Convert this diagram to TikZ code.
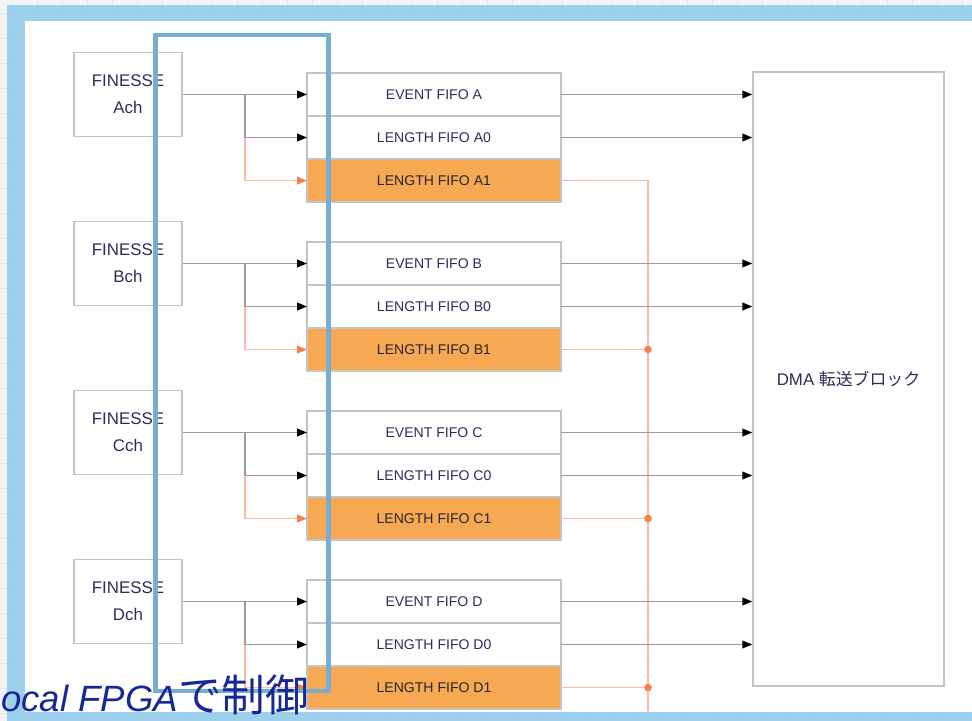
\documentclass[tikz,border=0pt]{standalone}
\usepackage{fontspec}
\setmainfont{Liberation Sans}
\newfontfamily\jpfont{Noto Sans CJK JP}
\usepackage{tikz}
\usetikzlibrary{positioning, arrows.meta}
\definecolor{gridbg}{RGB}{243,243,243}
\definecolor{gridcol}{RGB}{216,231,241}
\definecolor{bandblue}{RGB}{142,202,237}
\definecolor{frameblue}{RGB}{118,174,210}
\definecolor{boxgray}{RGB}{196,196,196}
\definecolor{wiregray}{RGB}{155,155,155}
\definecolor{fifoorange}{RGB}{247,168,82}
\definecolor{wireorange}{RGB}{250,188,168}
\definecolor{tiporange}{RGB}{244,128,78}
\definecolor{labelink}{RGB}{45,45,88}
\definecolor{titleblue}{RGB}{22,40,150}
\tikzset{
  finesse/.style={
    rectangle, draw=boxgray, line width=1.1pt, minimum width=2.7cm,
    minimum height=2.1cm, inner sep=0pt, align=center,
    font=\fontsize{12}{19}\selectfont, text=labelink
  },
  fiforow/.style={
    rectangle, draw=boxgray, line width=1.1pt, fill=white, outer sep=0pt,
    minimum width=6.35cm, minimum height=1.075cm, inner sep=0pt,
    font=\fontsize{10}{12}\selectfont, text=labelink
  },
  fifohot/.style={fiforow, fill=fifoorange, text=black!85},
  dmabox/.style={
    rectangle, draw=boxgray, line width=1.1pt, minimum width=4.775cm,
    minimum height=15.35cm, inner sep=0pt,
    font=\fontsize{12}{14}\selectfont, text=labelink
  },
  wire/.style={draw=wiregray, line width=1pt,
    -{Triangle[length=7pt, width=5.5pt, color=black]}},
  hotwire/.style={draw=wireorange, line width=0.9pt,
    -{Triangle[length=7pt, width=5.5pt, color=tiporange]}},
  busline/.style={draw=wireorange, line width=0.9pt},
  busdot/.style={circle, fill=tiporange, inner sep=0pt, minimum size=5.4pt},
  gridrule/.style={gridcol, line width=0.6pt},
  fpgaframe/.style={draw=frameblue, line width=3.5pt},
  ctrltext/.style={inner sep=0pt, text=titleblue,
    font=\fontsize{26}{32}\selectfont},
}

\begin{document}
\begin{tikzpicture}[x=0.025cm, y=-0.025cm]
  \useasboundingbox (0,0) rectangle (972,721);

  % Backdrop
  \fill[gridbg] (0,0) rectangle (972,721);
  \foreach \g in {12.5,37.5,...,972} {
    \draw[gridrule] (\g,0) -- (\g,721);
  }
  \foreach \g in {13.5,38.5,...,721} {
    \draw[gridrule] (0,\g) -- (972,\g);
  }
  \fill[bandblue, opacity=0.85] (7,5) rectangle (972,721);
  \fill[white] (25,21) rectangle (972,712);

  % DMA block
  \node[dmabox] (dma) at (848.5,379) {DMA {\jpfont 転送ブロック}};

  % Channels
  \foreach \k/\lbl in {0/A,1/B,2/C,3/D} {
    \node[finesse] (fin\lbl) at (128,{94.5+169*\k}) {FINESSE\\\lbl ch};
    \node[fiforow] (ev\lbl) at (434,{94.5+169*\k}) {EVENT FIFO \lbl};
    \node[fiforow, below=0pt of ev\lbl] (lenz\lbl) {LENGTH FIFO \lbl0};
    \node[fifohot, below=0pt of lenz\lbl] (lenone\lbl) {LENGTH FIFO \lbl1};
    \coordinate (br\lbl) at (245,{94.5+169*\k});
  }

  % Orange bus
  \coordinate (busend) at (648,712);
  \draw[busline] (lenoneA.east) -| (busend);
  \foreach \lbl in {B,C,D} {
    \node[busdot] (dot\lbl) at (lenone\lbl.east -| busend) {};
    \draw[busline] (lenone\lbl.east) -- (dot\lbl);
  }

  % Wires
  \foreach \lbl in {A,B,C,D} {
    \draw[wire] (fin\lbl.east) -- (ev\lbl.west);
    \draw[wire] (br\lbl) |- (lenz\lbl.west);
    \draw[hotwire] (br\lbl |- lenz\lbl.west) |- (lenone\lbl.west);
    \draw[wire] (ev\lbl.east) -- (ev\lbl.east -| dma.west);
    \draw[wire] (lenz\lbl.east) -- (lenz\lbl.east -| dma.west);
  }

  % Local FPGA frame
  \draw[fpgaframe] (155.5,35) rectangle (328.5,691);
  \node[ctrltext, anchor=base west] (ctrl) at (1,711)
    {{\itshape ocal FPGA}{\jpfont\fontsize{31}{36}\selectfont で制御}};

\end{tikzpicture}
\end{document}
